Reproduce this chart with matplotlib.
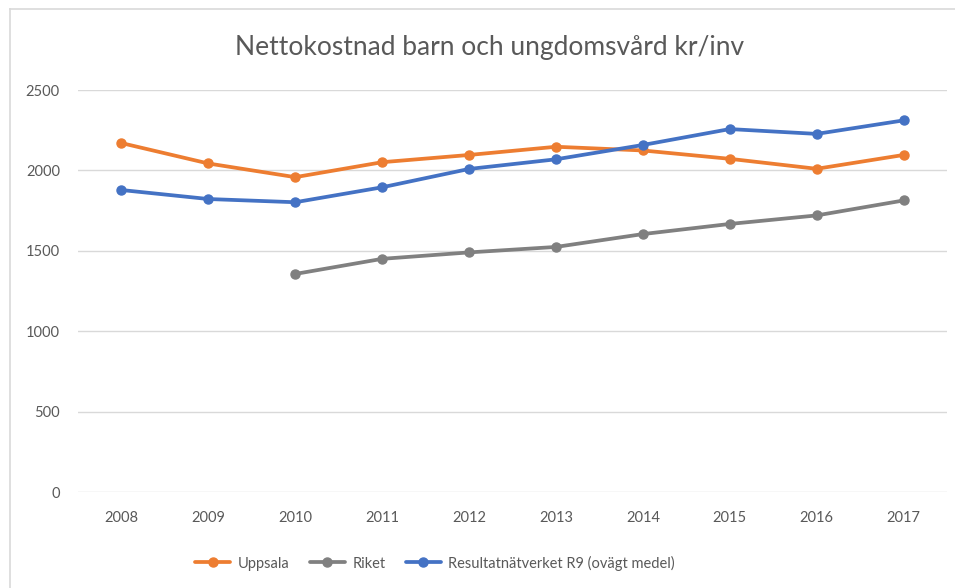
import matplotlib
matplotlib.use("Agg")
import matplotlib.pyplot as plt
from matplotlib.lines import Line2D

years = ["2008", "2009", "2010", "2011", "2012", "2013", "2014", "2015", "2016", "2017"]
uppsala = [2170, 2043, 1958, 2051, 2096, 2147, 2124, 2072, 2010, 2096]
riket = [None, None, 1356, 1450, 1490, 1524, 1604, 1667, 1720, 1813]
r9 = [1878, 1822, 1802, 1895, 2009, 2069, 2158, 2257, 2227, 2311]
yticks = [0, 500, 1000, 1500, 2000, 2500]

series = [
    ("Uppsala", uppsala, "#ED7D31"),
    ("Riket", riket, "#808080"),
    ("Resultatnätverket R9 (ovägt medel)", r9, "#4472C4"),
]

plt.rcParams["font.family"] = ["Lato", "DejaVu Sans"]
txt = "#595959"
W, H = 955, 588
fig = plt.figure(figsize=(W / 100, H / 100), dpi=100)
ax = fig.add_axes([78 / W, 1 - 492 / H, (947 - 78) / W, (492 - 90) / H])

x = list(range(len(years)))
for name, vals, col in series:
    pts = [(i, v) for i, v in zip(x, vals) if v is not None]
    ax.plot([p[0] for p in pts], [p[1] for p in pts], "-o", color=col, lw=2.7,
            ms=6.5, label=name, solid_capstyle="round")

ax.set_xlim(-0.5, len(years) - 0.5)
ax.set_ylim(0, 2500)
ax.set_xticks(x)
ax.set_xticklabels(years)
ax.set_yticks(yticks)
ax.tick_params(length=0, labelsize=10.5, colors=txt)
ax.tick_params(axis="x", pad=14)
ax.tick_params(axis="y", pad=13)
ax.grid(axis="y", color="#D9D9D9", lw=1)
ax.set_axisbelow(True)
for s in ax.spines.values():
    s.set_visible(False)

fig.text(490 / W, 1 - 47 / H, "Nettokostnad barn och ungdomsvård kr/inv",
         ha="center", va="center", fontsize=19, color=txt)

fig.legend(loc="center", bbox_to_anchor=(435 / W, 1 - 563 / H), ncol=3,
           frameon=False, fontsize=10.5, labelcolor=txt, handlelength=2.4,
           columnspacing=1.4, handletextpad=0.5)

# chart frame (left and top edges only visible)
fig.add_artist(Line2D([10 / W, 10 / W], [0, 1 - 9 / H], color="#D9D9D9", lw=1.2))
fig.add_artist(Line2D([10 / W, 1], [1 - 9 / H, 1 - 9 / H], color="#D9D9D9", lw=1.2))

fig.savefig("out.png", dpi=100)
